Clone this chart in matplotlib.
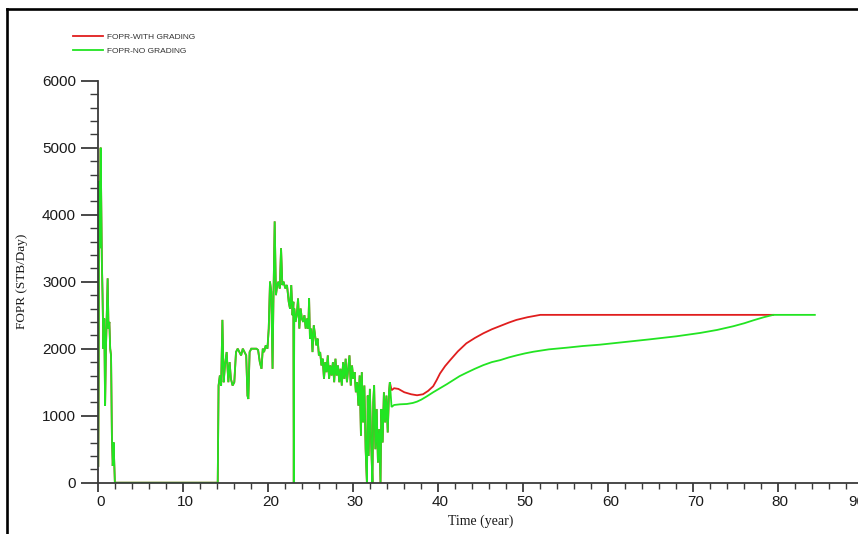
import matplotlib
matplotlib.use("Agg")
import matplotlib.pyplot as plt
from matplotlib.lines import Line2D
from matplotlib.ticker import MultipleLocator
from matplotlib.transforms import ScaledTranslation

# Shared production history (both cases identical up to ~34 years)
t_early = [0.0, 0.05, 0.1, 0.15, 0.2, 0.28, 0.35, 0.42, 0.5, 0.6, 0.7, 0.8, 0.9, 1.0,
           1.1, 1.2, 1.3, 1.4, 1.5, 1.6, 1.7, 1.8, 1.95, 2.0, 14.05, 14.1, 14.15, 14.3,
           14.45, 14.6, 14.75, 14.9, 15.1, 15.3, 15.45, 15.6, 15.8, 16.0, 16.2, 16.4,
           16.6, 16.8, 17.0, 17.2, 17.4, 17.55, 17.65, 17.8, 18.0, 18.3, 18.6, 18.8,
           19.0, 19.2, 19.35, 19.5, 19.7, 19.9, 20.05, 20.2, 20.35, 20.5, 20.6, 20.75,
           20.9, 21.05, 21.2, 21.35, 21.5, 21.65, 21.8, 22.0, 22.2, 22.4, 22.55, 22.7,
           22.85, 22.95, 23.0, 23.05, 23.2, 23.35, 23.5, 23.65, 23.8, 23.95, 24.1,
           24.25, 24.4, 24.55, 24.7, 24.8, 24.9, 25.05, 25.2, 25.35, 25.5, 25.65, 25.8,
           25.95, 26.1, 26.25, 26.4, 26.55, 26.7, 26.85, 27.0, 27.15, 27.3, 27.45,
           27.6, 27.75, 27.9, 28.05, 28.2, 28.35, 28.5, 28.65, 28.8, 28.95, 29.1,
           29.25, 29.4, 29.55, 29.7, 29.85, 30.0, 30.15, 30.3, 30.45, 30.6, 30.75,
           30.9, 31.0, 31.15, 31.3, 31.45, 31.6, 31.7, 31.8, 31.95, 32.1, 32.25, 32.35,
           32.45, 32.6, 32.75, 32.9, 33.05, 33.2, 33.3, 33.45, 33.6, 33.75, 33.9,
           34.05, 34.2, 34.3]
fopr_early = [250, 1700, 4500, 3500, 4300, 5000, 4200, 3300, 2800, 2000, 2450, 1150,
              2000, 2500, 3050, 2300, 2400, 2000, 1900, 700, 250, 600, 0, 0, 0, 700,
              1450, 1600, 1450, 2430, 1500, 1750, 1950, 1500, 1800, 1550, 1450, 1500,
              1950, 2000, 1950, 1900, 2000, 1950, 1900, 1300, 1250, 1950, 2000, 2000,
              2000, 1980, 1800, 1700, 2000, 1950, 2050, 2000, 2300, 3000, 2850, 1700,
              2700, 3900, 2800, 2950, 3000, 2900, 3500, 2950, 3000, 2900, 2950, 2700,
              2600, 2950, 2500, 2700, 0, 2600, 2400, 2500, 2750, 2300, 2600, 2450, 2400,
              2500, 2300, 2450, 2300, 2750, 2150, 2300, 1950, 2350, 2200, 2050, 2150,
              1900, 1950, 1750, 1850, 1550, 1800, 1650, 1900, 1550, 1750, 1600, 1800,
              1500, 1850, 1600, 1750, 1500, 1700, 1450, 1800, 1550, 1850, 1500, 1700,
              1900, 1450, 1750, 1550, 1650, 1350, 1500, 1150, 1600, 700, 1650, 900,
              1450, 500, 0, 1300, 400, 1400, 600, 0, 1200, 1450, 500, 1100, 300, 800,
              0, 1100, 600, 1350, 900, 1300, 750, 1350, 1500]

# Forecast with grading
t_grading = [34.5, 34.8, 35.3, 36.0, 36.8, 37.5, 38.2, 38.8, 39.4, 39.8, 40.2, 40.8,
             41.4, 42.3, 43.3, 44.3, 45.3, 46.3, 47.3, 48.3, 49.2, 50.5, 52.0, 79.4]
fopr_grading = [1380, 1410, 1400, 1350, 1320, 1305, 1320, 1370, 1440, 1530, 1630,
                1740, 1830, 1960, 2080, 2160, 2230, 2290, 2340, 2390, 2430, 2470,
                2505, 2505]

# Forecast without grading
t_nograd = [34.5, 34.8, 35.5, 36.3, 37.0, 37.5, 38.0, 38.6, 39.4, 40.2, 41.0, 41.8,
            42.5, 43.3, 44.3, 45.3, 46.3, 47.3, 48.3, 49.2, 50.2, 51.2, 53.0, 55.1,
            57.0, 59.0, 62.0, 64.9, 68.0, 70.8, 72.8, 74.7, 76.0, 77.1, 78.3, 79.4,
            84.3]
fopr_nograd = [1130, 1160, 1170, 1175, 1190, 1210, 1240, 1285, 1350, 1410, 1470,
               1535, 1590, 1640, 1700, 1755, 1800, 1830, 1870, 1900, 1930, 1955,
               1990, 2015, 2040, 2060, 2100, 2140, 2185, 2235, 2280, 2335, 2380,
               2425, 2470, 2505, 2505]

series_labels = ["FOPR-WITH GRADING", "FOPR-NO GRADING"]
x_ticks = [0, 10, 20, 30, 40, 50, 60, 70, 80, 90]
y_ticks = [0, 1000, 2000, 3000, 4000, 5000, 6000]

RED = "#e01e1e"
GREEN = "#22e422"
AXIS = "#3a3a3a"
SANS = "Liberation Sans"
SERIF = "Liberation Serif"

W, H = 858, 534
fig = plt.figure(figsize=(W / 100, H / 100), dpi=100)
ax = fig.add_axes([98.3 / W, (H - 482.7) / H, 765.0 / W, (482.7 - 80.7) / H])

ax.plot(t_early + t_grading, fopr_early + fopr_grading, color=RED, lw=1.3,
        label=series_labels[0], solid_joinstyle="miter")
ax.plot(t_early + t_nograd, fopr_early + fopr_nograd, color=GREEN, lw=1.3,
        label=series_labels[1], solid_joinstyle="miter")

ax.set_xlim(0, 90)
ax.set_ylim(0, 6000)
ax.set_xticks(x_ticks)
ax.set_yticks(y_ticks)
ax.xaxis.set_minor_locator(MultipleLocator(2))
ax.yaxis.set_minor_locator(MultipleLocator(200))

for side in ("top", "right"):
    ax.spines[side].set_visible(False)
for side in ("left", "bottom"):
    ax.spines[side].set_color(AXIS)
    ax.spines[side].set_linewidth(1.3)

ax.tick_params(axis="y", which="major", direction="out", length=12, width=1.3,
               color=AXIS, pad=4)
ax.tick_params(axis="y", which="minor", direction="out", length=6, width=1.0,
               color=AXIS)
ax.tick_params(axis="x", which="major", direction="out", length=6.5, width=1.3,
               color=AXIS, pad=2)
ax.tick_params(axis="x", which="minor", direction="out", length=4.5, width=1.0,
               color=AXIS)
for lab in ax.get_xticklabels() + ax.get_yticklabels():
    lab.set_fontfamily(SANS)
    lab.set_fontsize(11)
    lab.set_color("#1a1a1a")

# x labels sit a little right of their ticks; the last one is pulled inside the window
xlabels = ax.get_xticklabels()
for lab in xlabels[:-1]:
    lab.set_transform(lab.get_transform() + ScaledTranslation(2 / 100, 0, fig.dpi_scale_trans))
xlabels[-1].set_transform(xlabels[-1].get_transform()
                          + ScaledTranslation(-7 / 100, 0, fig.dpi_scale_trans))

ax.set_xlabel("Time (year)", fontfamily=SERIF, fontsize=10, color="#1a1a1a",
              labelpad=4)
ax.set_ylabel("FOPR (STB/Day)", fontfamily=SERIF, fontsize=9.5, color="#1a1a1a",
              labelpad=10)

leg = fig.legend(loc="upper left", bbox_to_anchor=(73 / W, 1 - 33.5 / H),
                 frameon=False, borderpad=0, borderaxespad=0, handlelength=3.6,
                 handletextpad=0.45, labelspacing=0.68,
                 prop={"family": SANS, "size": 6})
for txt in leg.get_texts():
    txt.set_color("#333333")

# Outer frame: top and left edges of the plot window
fig.add_artist(Line2D([6.5 / W, 1.0], [1 - 8.8 / H, 1 - 8.8 / H], color="black",
                      lw=1.9, transform=fig.transFigure))
fig.add_artist(Line2D([6.5 / W, 6.5 / W], [0.0, 1 - 8.8 / H], color="black",
                      lw=1.9, transform=fig.transFigure))

fig.savefig("out.png", dpi=100)
